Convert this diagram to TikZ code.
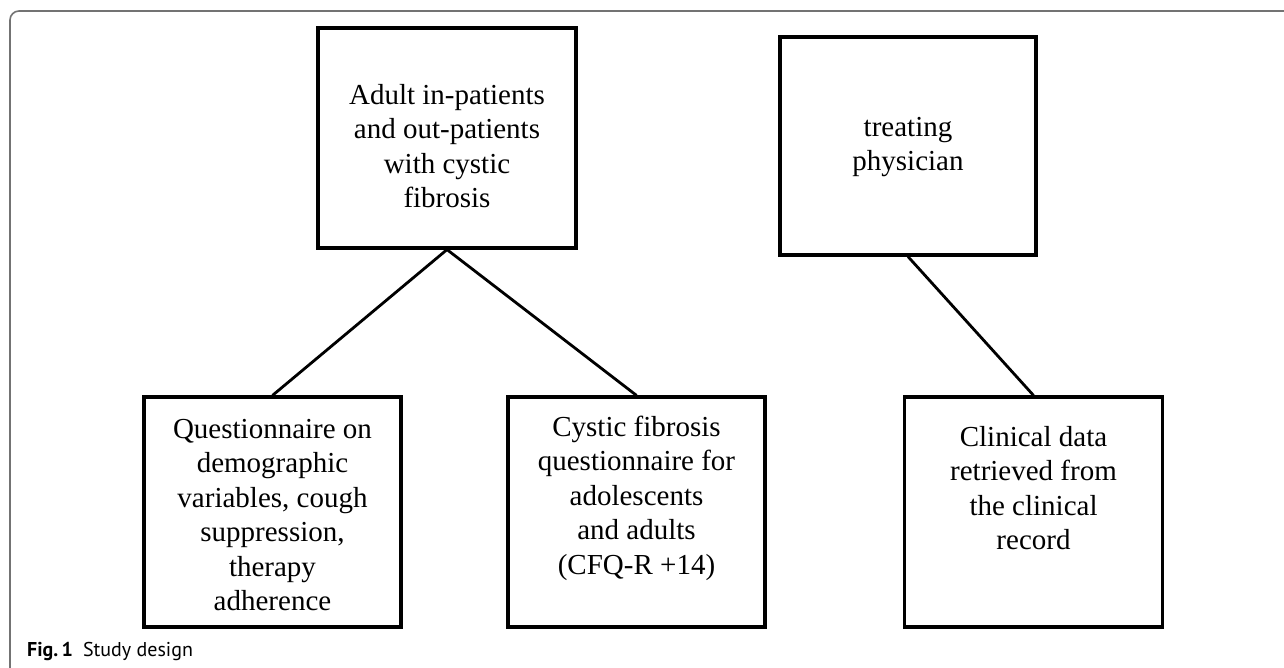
\documentclass[tikz,border=0pt]{standalone}
\usepackage{fontspec}
\setmainfont{Liberation Serif}
\setsansfont{PT Sans}
\usetikzlibrary{positioning}
\tikzstyle{blk}=[draw, line width=3.2pt, inner sep=0pt]
\tikzstyle{link}=[line width=2.8pt]
\newcommand{\blktext}[4]{\parbox[c][#2][t]{#1}{\centering\vspace*{#3}#4}}

\begin{document}
\begin{tikzpicture}[x=1pt,y=-1pt,font=\fontsize{29}{34.5}\selectfont]
    \useasboundingbox (0,0) rectangle (1284,668);
    \draw[line width=1.6pt, color=black!55, rounded corners=9pt] (10,668) -- (10,11) -- (1284,11);

    \node [blk] (pop) at (447,138) {\blktext{258pt}{220pt}{56pt}{Adult in-patients\\and out-patients\\with cystic\\fibrosis}};
    \node [blk] (phys) at (908,146) {\blktext{256pt}{218pt}{80pt}{treating\\physician}};
    \node [blk] (quest) at (272.5,512) {\blktext{257pt}{230pt}{22pt}{Questionnaire on\\demographic\\variables, cough\\suppression,\\therapy\\adherence}};
    \node [blk] (cfq) [right of=quest, node distance=364pt] {\blktext{257pt}{230pt}{19pt}{Cystic fibrosis\\questionnaire for\\adolescents\\and adults\\(CFQ-R +14)}};
    \node [blk] (clin) [right of=cfq, node distance=397pt] {\blktext{258pt}{230pt}{29pt}{Clinical data\\retrieved from\\the clinical\\record}};

    \draw[link] (pop.south) -- (quest.north);
    \draw[link] (pop.south) -- (cfq.north);
    \draw[link] (phys.south) -- (clin.north);

    \node [anchor=base west, inner sep=0pt, font=\sffamily\fontsize{20}{24}\selectfont] (cap) at (27,656) {{\bfseries Fig.\,1}\hspace{10pt}Study design};
\end{tikzpicture}
\end{document}
